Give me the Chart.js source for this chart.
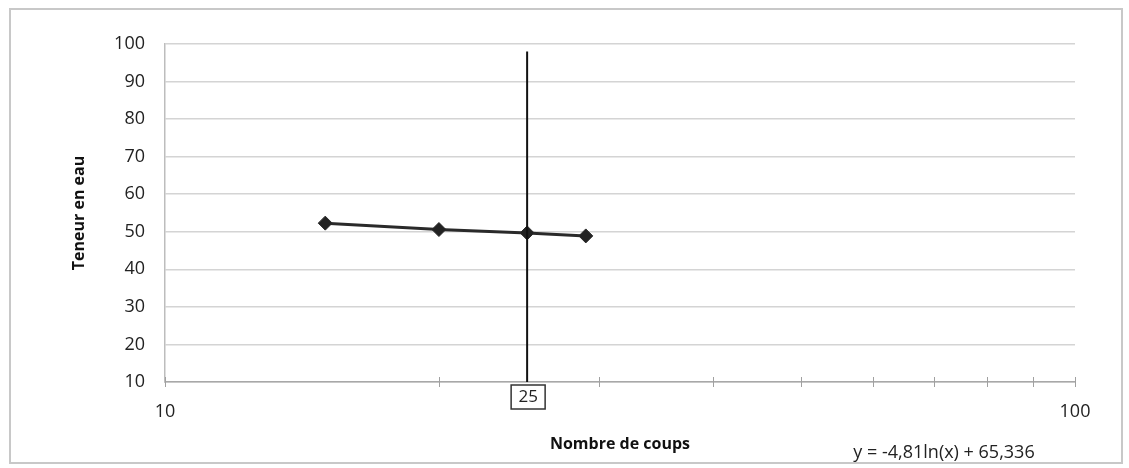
<!DOCTYPE html>
<html>
<head>
<meta charset="utf-8">
<script src="https://cdn.jsdelivr.net/npm/chart.js@4/dist/chart.umd.min.js"></script>
<style>
  html, body { margin: 0; padding: 0; background: #fff; }
  #wrap { position: relative; width: 1129px; height: 468px; }
  #frame { position: absolute; left: 9px; top: 8px; width: 1114px; height: 456px; border: 2px solid #c8c8c8; box-sizing: border-box; pointer-events: none; }
  canvas { position: absolute; left: 0; top: 0; }
</style>
</head>
<body>
<div id="wrap">
  <canvas id="chart" width="1129" height="468"></canvas>
  <div id="frame"></div>
</div>
<script>
// Nombre de coups vs teneur en eau
const coups = [15, 20, 25, 29];
const teneur = [52.3, 50.6, 49.7, 48.9];
const refCoups = 25;
const refLineY = [10, 98];
const xTicks = [10, 20, 30, 40, 50, 60, 70, 80, 90, 100];
const yTicks = [10, 20, 30, 40, 50, 60, 70, 80, 90, 100];
const equation = 'y = -4,81ln(x) + 65,336';

const FONT = '"Open Sans", sans-serif';

// ticks crossing the x axis, the boxed "25" label and the trend equation
const extras = {
    id: 'extras',
    afterDraw(chart) {
        const ctx = chart.ctx;
        const xs = chart.scales.x, ys = chart.scales.y;
        const yAxis = ys.getPixelForValue(ys.min);
        ctx.save();
        ctx.strokeStyle = '#a0a0a0';
        ctx.lineWidth = 1;
        xTicks.forEach(v => {
            const px = Math.round(xs.getPixelForValue(v)) + 0.5;
            ctx.beginPath();
            ctx.moveTo(px, yAxis - 5);
            ctx.lineTo(px, yAxis + 5);
            ctx.stroke();
        });
        // boxed label
        const bx = xs.getPixelForValue(refCoups);
        ctx.fillStyle = '#fff';
        ctx.fillRect(bx - 16, yAxis + 3, 34, 24);
        ctx.strokeStyle = '#333';
        ctx.lineWidth = 1.5;
        ctx.strokeRect(bx - 16, yAxis + 3, 34, 24);
        ctx.fillStyle = '#222';
        ctx.font = '17px ' + FONT;
        ctx.textAlign = 'center';
        ctx.textBaseline = 'middle';
        ctx.fillText(String(refCoups), bx + 1, yAxis + 15);
        // equation
        ctx.font = '18px ' + FONT;
        ctx.fillText(equation, 944, 453);
        ctx.restore();
    }
};

new Chart(document.getElementById('chart').getContext('2d'), {
    type: 'scatter',
    data: {
        datasets: [
            {
                label: 'ref',
                data: refLineY.map(v => ({ x: refCoups, y: v })),
                showLine: true,
                borderColor: '#111',
                borderWidth: 2,
                pointRadius: 0
            },
            {
                label: 'Teneur en eau',
                data: coups.map((c, i) => ({ x: c, y: teneur[i] })),
                showLine: true,
                borderColor: '#2a2a2a',
                borderWidth: 3,
                backgroundColor: '#222',
                pointStyle: 'rectRot',
                pointRadius: 7,
                pointBorderWidth: 1
            }
        ]
    },
    options: {
        responsive: false,
        animation: false,
        layout: { padding: { left: 66, top: 44, right: 54, bottom: 10 } },
        plugins: { legend: { display: false }, tooltip: { enabled: false } },
        scales: {
            x: {
                type: 'logarithmic',
                min: 10, max: 100,
                afterBuildTicks: s => { s.ticks = xTicks.map(v => ({ value: v })); },
                afterFit: s => { s.height = 468 - 382 - 10; },
                grid: { display: false },
                border: { display: true, color: '#a8a8a8', width: 1.5 },
                ticks: {
                    autoSkip: false, maxRotation: 0, padding: 11,
                    color: '#222', font: { family: FONT, size: 18 },
                    callback: v => (v === 10 || v === 100) ? String(v) : ''
                },
                title: {
                    display: true, text: 'Nombre de coups', color: '#111',
                    font: { family: FONT, size: 16, weight: 'bold' },
                    padding: { top: 12 }
                }
            },
            y: {
                min: 10, max: 100,
                afterBuildTicks: s => { s.ticks = yTicks.map(v => ({ value: v })); },
                afterFit: s => { s.width = 165 - 66; },
                grid: { color: '#d4d4d4', lineWidth: 1.5, drawTicks: false },
                border: { display: true, color: '#bdbdbd', width: 1.5 },
                ticks: { padding: 20, color: '#222', font: { family: FONT, size: 18 } },
                title: {
                    display: true, text: 'Teneur en eau', color: '#111',
                    font: { family: FONT, size: 16, weight: 'bold' }
                }
            }
        }
    },
    plugins: [extras]
});
</script>
</body>
</html>
